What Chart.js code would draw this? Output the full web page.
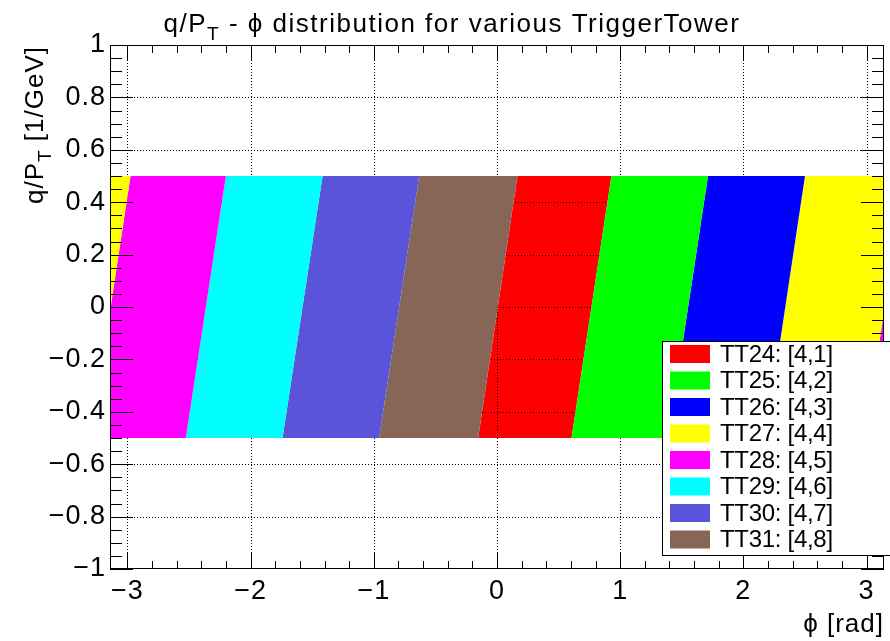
<!DOCTYPE html>
<html>
<head>
<meta charset="utf-8">
<script src="https://cdn.jsdelivr.net/npm/chart.js@4.4.1/dist/chart.umd.min.js"></script>
<style>
  body { margin: 0; background: #fff; }
  #wrap { width: 890px; height: 641px; }
</style>
</head>
<body>
<div id="wrap"><canvas id="chart" width="890" height="641"></canvas></div>
<script>
// trigger towers and their colours (ROOT palette 2,3,4,5,6,7,9,28)
var towerLabels = ['TT24: [4,1]', 'TT25: [4,2]', 'TT26: [4,3]', 'TT27: [4,4]',
                   'TT28: [4,5]', 'TT29: [4,6]', 'TT30: [4,7]', 'TT31: [4,8]'];
var towerColors = ['#ff0000', '#00ff00', '#0000ff', '#ffff00',
                   '#ff00ff', '#00ffff', '#5954d9', '#876657'];
// lower phi edge of each tower band, read at q/pT = +0.5 and q/pT = -0.5
var phiLowTop = [0.166, 0.929, 1.713, 2.500, -2.975, -2.201, -1.416, -0.632];
var phiLowBottom = [-0.153, 0.605, 1.390, 2.180, -3.297, -2.526, -1.741, -0.957];
var qptTop = 0.5;
var qptBottom = -0.5;

var xTickValues = [-3, -2, -1, 0, 1, 2, 3];
var yTickValues = [-1, -0.8, -0.6, -0.4, -0.2, 0, 0.2, 0.4, 0.6, 0.8, 1];

var FONT = "'Liberation Sans', Arial, Helvetica, sans-serif";
var TWO_PI = 2 * Math.PI;

function upperEdge(edges, i) {
  var lo = edges[i];
  var hi = edges[(i + 1) % edges.length];
  if (hi < lo) hi += TWO_PI;
  return hi;
}

// each band is a parallelogram; copies shifted by 2pi cover the wrap-around
var datasets = [];
towerLabels.forEach(function (label, i) {
  var loT = phiLowTop[i], hiT = upperEdge(phiLowTop, i);
  var loB = phiLowBottom[i], hiB = upperEdge(phiLowBottom, i);
  [0, -TWO_PI, TWO_PI].forEach(function (s) {
    datasets.push({
      label: label,
      order: i === 0 ? 1 : 0,
      data: [
        { x: loT + s, y: qptTop },
        { x: hiT + s, y: qptTop },
        { x: hiB + s, y: qptBottom },
        { x: loB + s, y: qptBottom },
        { x: loT + s, y: qptTop }
      ],
      backgroundColor: towerColors[i],
      borderColor: 'rgba(0,0,0,0)',
      borderWidth: 0,
      pointRadius: 0,
      tension: 0,
      fill: 'shape'
    });
  });
});

function fmt(v) {
  var s = String(Math.round(v * 100) / 100);
  return s.replace('-', '\u2212');
}

// dotted grid, drawn right after the first tower like ROOT does
function drawGrid(chart) {
  var ctx = chart.ctx, a = chart.chartArea;
  var xs = chart.scales.x, ys = chart.scales.y;
  ctx.save();
  ctx.strokeStyle = '#000';
  ctx.lineWidth = 1;
  ctx.setLineDash([1, 2]);
  xTickValues.forEach(function (v) {
    var px = Math.round(xs.getPixelForValue(v)) + 0.5;
    ctx.beginPath();
    ctx.moveTo(px, a.top);
    ctx.lineTo(px, a.bottom);
    ctx.stroke();
  });
  yTickValues.forEach(function (v) {
    if (Math.abs(v) === 1) return;
    var py = Math.round(ys.getPixelForValue(v)) + 0.5;
    ctx.beginPath();
    ctx.moveTo(a.left, py);
    ctx.lineTo(a.right, py);
    ctx.stroke();
  });
  ctx.restore();
}

function drawText(ctx, parts, x, y) {
  parts.forEach(function (p) {
    ctx.font = p.size + 'px ' + FONT;
    ctx.fillText(p.text, x, y + (p.dy || 0));
    x += ctx.measureText(p.text).width;
  });
}

function partsWidth(ctx, parts) {
  var w = 0;
  parts.forEach(function (p) {
    ctx.font = p.size + 'px ' + FONT;
    w += ctx.measureText(p.text).width;
  });
  return w;
}

var rootFrame = {
  id: 'rootFrame',
  beforeDraw: function (chart) {
    chart.ctx.letterSpacing = '1px';
  },
  beforeDatasetsDraw: function (chart) {
    chart.$gridDone = false;
  },
  beforeDatasetDraw: function (chart, args) {
    if (!chart.$gridDone && chart.data.datasets[args.index].order === 0) {
      drawGrid(chart);
      chart.$gridDone = true;
    }
  },
  afterDraw: function (chart) {
    var ctx = chart.ctx, a = chart.chartArea;
    var xs = chart.scales.x, ys = chart.scales.y;
    var k, v, len, p;
    ctx.save();
    ctx.strokeStyle = '#000';
    ctx.lineWidth = 1;

    // frame
    ctx.strokeRect(a.left + 0.5, a.top + 0.5, a.right - a.left - 1, a.bottom - a.top - 1);

    // x ticks (bottom and top, inside the frame)
    ctx.beginPath();
    for (k = -16; k <= 16; k++) {
      v = k * 0.2;
      if (Math.abs(v) > Math.PI) continue;
      p = Math.round(xs.getPixelForValue(v)) + 0.5;
      len = k % 5 === 0 ? 16 : 8;
      ctx.moveTo(p, a.bottom);
      ctx.lineTo(p, a.bottom - len);
      ctx.moveTo(p, a.top);
      ctx.lineTo(p, a.top + len);
    }
    // y ticks (left and right)
    for (k = -20; k <= 20; k++) {
      v = k * 0.05;
      p = Math.round(ys.getPixelForValue(v)) + 0.5;
      len = k % 4 === 0 ? 23 : 12;
      ctx.moveTo(a.left, p);
      ctx.lineTo(a.left + len, p);
      ctx.moveTo(a.right, p);
      ctx.lineTo(a.right - len, p);
    }
    ctx.stroke();

    ctx.fillStyle = '#000';
    ctx.textBaseline = 'alphabetic';
    ctx.textAlign = 'left';

    // title
    ctx.letterSpacing = '1.5px';
    var title = [
      { text: 'q/P', size: 26 },
      { text: 'T', size: 19, dy: 8 },
      { text: ' - \u03d5 distribution for various TriggerTower', size: 26 }
    ];
    drawText(ctx, title, 452 - partsWidth(ctx, title) / 2, 32);

    // y axis title, ends at the top of the frame
    ctx.letterSpacing = '1px';
    var ytitle = [
      { text: 'q/P', size: 26 },
      { text: 'T', size: 19, dy: 8 },
      { text: ' [1/GeV]', size: 26 }
    ];
    ctx.save();
    ctx.translate(43, a.top + 1);
    ctx.rotate(-Math.PI / 2);
    drawText(ctx, ytitle, -partsWidth(ctx, ytitle), 0);
    ctx.restore();

    // x axis title, right aligned
    var xtitle = [{ text: '\u03d5 [rad]', size: 26 }];
    drawText(ctx, xtitle, a.right - partsWidth(ctx, xtitle), 632);

    // legend box
    var lx = 662, ly = 341, lw = 240, lh = 214;
    ctx.fillStyle = '#fff';
    ctx.fillRect(lx, ly, lw, lh);
    ctx.strokeRect(lx + 0.5, ly + 0.5, lw, lh);
    ctx.letterSpacing = '-0.3px';
    ctx.font = '24px ' + FONT;
    ctx.textBaseline = 'middle';
    towerLabels.forEach(function (label, i) {
      var rowY = ly + 4 + i * 26.5;
      ctx.fillStyle = towerColors[i];
      ctx.fillRect(lx + 8, rowY, 40, 18);
      ctx.fillStyle = '#000';
      ctx.fillText(label, lx + 58, rowY + 10);
    });
    ctx.restore();
  }
};

new Chart(document.getElementById('chart'), {
  type: 'line',
  data: { datasets: datasets },
  options: {
    responsive: false,
    animation: false,
    layout: { padding: { top: 45, right: 6, left: 0, bottom: 0 } },
    plugins: {
      legend: { display: false },
      tooltip: { enabled: false },
      title: { display: false }
    },
    scales: {
      x: {
        type: 'linear',
        min: -Math.PI,
        max: Math.PI,
        grid: { display: false, drawTicks: false },
        border: { display: false },
        afterBuildTicks: function (scale) {
          scale.ticks = xTickValues.map(function (v) { return { value: v }; });
        },
        afterFit: function (scale) { scale.height = 72; },
        ticks: {
          padding: 6,
          color: '#000',
          maxRotation: 0,
          autoSkip: false,
          font: { family: FONT, size: 27 },
          callback: function (v) { return fmt(v); }
        }
      },
      y: {
        type: 'linear',
        min: -1,
        max: 1,
        grid: { display: false, drawTicks: false },
        border: { display: false },
        afterBuildTicks: function (scale) {
          scale.ticks = yTickValues.map(function (v) { return { value: v }; });
        },
        afterFit: function (scale) { scale.width = 110; },
        ticks: {
          padding: 4,
          color: '#000',
          autoSkip: false,
          font: { family: FONT, size: 27 },
          callback: function (v) { return fmt(v); }
        }
      }
    }
  },
  plugins: [rootFrame]
});
</script>
</body>
</html>
